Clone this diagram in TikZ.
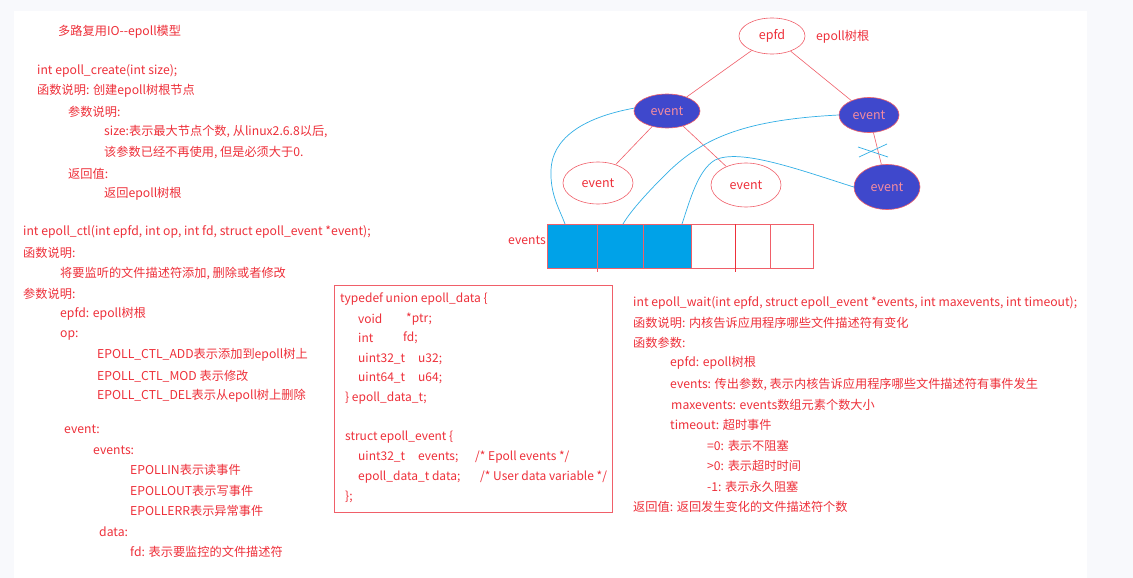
\documentclass[tikz,border=0pt]{standalone}
\usepackage{fontspec}
\setmainfont{Noto Sans CJK SC}
\usetikzlibrary{shapes.geometric}
\definecolor{tred}{RGB}{238,48,58}
\definecolor{lred}{RGB}{240,95,105}
\definecolor{eblue}{RGB}{63,72,204}
\definecolor{ecyan}{RGB}{0,162,232}
\definecolor{lcyan}{RGB}{50,175,230}
\definecolor{pinktxt}{RGB}{245,140,160}
\definecolor{bg}{RGB}{248,249,252}
\begin{document}
\begin{tikzpicture}[x=1pt,y=-1pt,
  txt/.style={anchor=west,inner sep=0pt,text=tred,font=\fontsize{12.2}{14}\selectfont},
  ctxt/.style={anchor=west,inner sep=0pt,text=tred,font=\fontsize{12}{14}\selectfont},
  evw/.style={ellipse,draw=lred,line width=0.6pt,fill=white,inner sep=0pt,text=tred,font=\fontsize{12.5}{14}\selectfont},
  evb/.style={ellipse,draw=lred,line width=0.6pt,fill=eblue,inner sep=0pt,text=pinktxt,font=\fontsize{12.5}{14}\selectfont},
  tline/.style={draw=lred,line width=0.6pt},
  cline/.style={draw=lcyan,line width=0.7pt},
  cellf/.style={draw=lred,fill=ecyan,line width=0.7pt,minimum height=44pt,inner sep=0pt,outer sep=0pt,anchor=north west},
  celle/.style={draw=lred,fill=white,line width=0.7pt,minimum height=44pt,inner sep=0pt,outer sep=0pt,anchor=north west}]
\fill[bg] (0,0) rectangle (1133,578);
\fill[white] (14,11) rectangle (1087,578);
\useasboundingbox (0,0) rectangle (1133,578);

% left column
\node[txt] (t1) at (58,32) {多路复用IO-{}-epoll模型};
\node[txt] (t2) at (37,71) {int epoll\_create(int size);};
\node[txt] (t3) at (37,91) {函数说明: 创建epoll树根节点};
\node[txt] (t4) at (68,112) {参数说明:};
\node[txt] (t5) at (104,132) {size:表示最大节点个数, 从linux2.6.8以后,};
\node[txt] (t6) at (104,153) {该参数已经不再使用, 但是必须大于0.};
\node[txt] (t7) at (68,174) {返回值:};
\node[txt] (t8) at (104,194) {返回epoll树根};
\node[txt] (t9) at (23,232) {int epoll\_ctl(int epfd, int op, int fd, struct epoll\_event *event);};
\node[txt] (t10) at (23,253) {函数说明:};
\node[txt] (t11) at (60,273) {将要监听的文件描述符添加, 删除或者修改};
\node[txt] (t12) at (23,294) {参数说明:};
\node[txt] (t13) at (60,314) {epfd: epoll树根};
\node[txt] (t14) at (60,335) {op:};
\node[txt] (t15) at (97,355) {EPOLL\_CTL\_ADD表示添加到epoll树上};
\node[txt] (t16) at (97,376) {EPOLL\_CTL\_MOD 表示修改};
\node[txt] (t17) at (97,396) {EPOLL\_CTL\_DEL表示从epoll树上删除};
\node[txt] (t18) at (64,429) {event:};
\node[txt] (t19) at (93,450) {events:};
\node[txt] (t20) at (130,470) {EPOLLIN表示读事件};
\node[txt] (t21) at (130,491) {EPOLLOUT表示写事件};
\node[txt] (t22) at (130,511) {EPOLLERR表示异常事件};
\node[txt] (t23) at (99,532) {data:};
\node[txt] (t24) at (130,552) {fd: 表示要监控的文件描述符};

% code box
\draw[lred,line width=0.8pt] (334,285) rectangle (612,512);
\node[ctxt] (c01) at (340,299) {typedef union epoll\_data \{};
\node[ctxt] (c02a) at (358,319) {void};
\node[ctxt] (c02b) at (406,319) {*ptr;};
\node[ctxt] (c03a) at (358,338) {int};
\node[ctxt] (c03b) at (403,338) {fd;};
\node[ctxt] (c04a) at (358,359) {uint32\_t};
\node[ctxt] (c04b) at (418,359) {u32;};
\node[ctxt] (c05a) at (358,378) {uint64\_t};
\node[ctxt] (c05b) at (418,378) {u64;};
\node[ctxt] (c06) at (345,398) {\} epoll\_data\_t;};
\node[ctxt] (c07) at (345,437) {struct epoll\_event \{};
\node[ctxt] (c08a) at (358,457) {uint32\_t};
\node[ctxt] (c08b) at (418,457) {events;};
\node[ctxt] (c08c) at (475,457) {/* Epoll events */};
\node[ctxt] (c09a) at (358,477) {epoll\_data\_t data;};
\node[ctxt] (c09c) at (480,477) {/* User data variable */};
\node[ctxt] (c10) at (345,497) {\};};

% right column
\node[txt] (w1) at (633,303) {int epoll\_wait(int epfd, struct epoll\_event *events, int maxevents, int timeout);};
\node[txt] (w2) at (633,323) {函数说明: 内核告诉应用程序哪些文件描述符有变化};
\node[txt] (w3) at (633,343) {函数参数:};
\node[txt] (w4) at (670,363) {epfd: epoll树根};
\node[txt] (w5) at (670,384) {events: 传出参数, 表示内核告诉应用程序哪些文件描述符有事件发生};
\node[txt] (w6) at (671,405) {maxevents: events数组元素个数大小};
\node[txt] (w7) at (670,425) {timeout: 超时事件};
\node[txt] (w8) at (707,446) {=0: 表示不阻塞};
\node[txt] (w9) at (707,466) {>0: 表示超时时间};
\node[txt] (w10) at (707,487) {-1: 表示永久阻塞};
\node[txt] (w11) at (633,507) {返回值: 返回发生变化的文件描述符个数};

% tree
\node[evw,minimum width=66pt,minimum height=36pt] (epfd) at (772,36) {epfd};
\node[txt] (rootlbl) at (816,37) {epoll树根};
\node[evb,minimum width=66pt,minimum height=34pt] (e1) at (667,111) {event};
\node[evb,minimum width=60pt,minimum height=35pt] (e2) at (869,115) {event};
\node[evw,minimum width=70pt,minimum height=42pt] (e3) at (598,183) {event};
\node[evw,minimum width=70pt,minimum height=44pt] (e4) at (746,185) {event};
\node[evb,minimum width=66pt,minimum height=45pt] (e5) at (887,187) {event};
\draw[tline] (epfd) -- (e1);
\draw[tline] (epfd) -- (e2);
\draw[tline] (e1) -- (e3);
\draw[tline] (e1) -- (e4);
\draw[tline] (e2) -- (e5);

% array
\node[cellf,minimum width=50pt] (a1) at (547,224) {};
\node[cellf,minimum width=46pt] (a2) at (597,224) {};
\node[cellf,minimum width=48pt] (a3) at (643,224) {};
\node[celle,minimum width=44pt] (a4) at (691,224) {};
\node[celle,minimum width=35pt] (a5) at (735,224) {};
\node[celle,minimum width=43pt] (a6) at (770,224) {};
\draw[tline] (a1.north east) -- ([yshift=-4pt]a1.south east);
\draw[draw=tred,line width=0.8pt] (a4.north east) -- ([yshift=-4pt]a4.south east);
\node[txt] (evlbl) at (508,240) {events};

% cyan links
\draw[cline] (e1.175) .. controls (580,118) and (552,140) .. (551,170) .. controls (550,195) and (560,210) .. ([xshift=18pt]a1.north west);
\draw[cline] (e2.west) .. controls (740,120) and (700,140) .. (665,175) .. controls (645,195) and (630,212) .. ([xshift=26pt]a2.north west);
\draw[cline] (e5.west) .. controls (800,170) and (740,148) .. (715,160) .. controls (698,170) and (690,200) .. ([xshift=39pt]a3.north west);

% cross mark
\coordinate (x1) at (858,147);
\coordinate (x2) at (888,157);
\coordinate (x3) at (859,157);
\coordinate (x4) at (887,144);
\draw[cline] (x1) -- (x2);
\draw[cline] (x3) -- (x4);
\end{tikzpicture}
\end{document}
